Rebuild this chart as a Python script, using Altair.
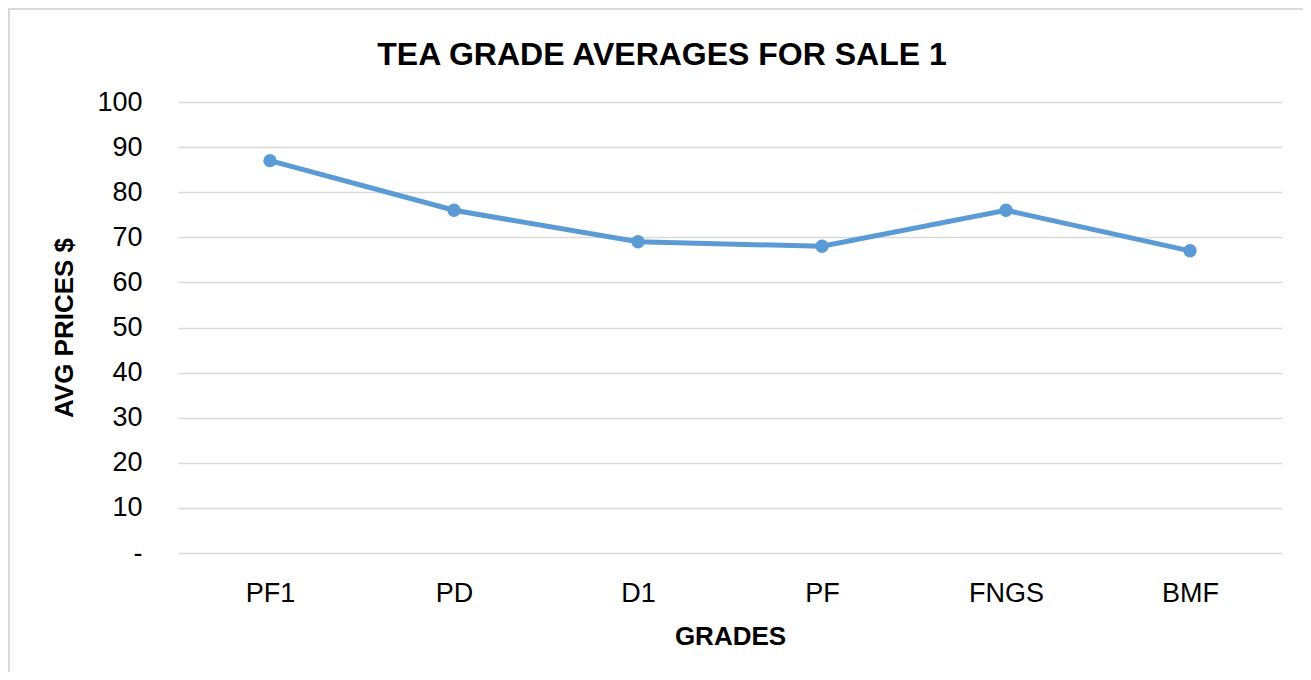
import altair as alt
import pandas as pd

grades = ["PF1", "PD", "D1", "PF", "FNGS", "BMF"]
avg_prices = [87, 76, 69, 68, 76, 67]
y_ticks = [0, 10, 20, 30, 40, 50, 60, 70, 80, 90, 100]

df = pd.DataFrame({"grade": grades, "price": avg_prices})

FONT = "Liberation Sans"
BLUE = "#5B9BD5"
W, H = 1104, 451

base = alt.Chart(df).encode(
    x=alt.X(
        "grade:N",
        sort=grades,
        scale=alt.Scale(type="point", padding=0.5),
        axis=alt.Axis(
            title="GRADES",
            titleFont=FONT,
            titleFontSize=26,
            titleFontWeight="bold",
            titleColor="#000000",
            titleBaseline="alphabetic",
            titleY=91,
            labelFont=FONT,
            labelFontSize=27,
            labelColor="#000000",
            labelAngle=0,
            labelPadding=27,
            domain=False,
            ticks=False,
            grid=False,
        ),
    ),
    y=alt.Y(
        "price:Q",
        scale=alt.Scale(domain=[0, 100], nice=False),
        axis=alt.Axis(
            values=y_ticks,
            title="AVG PRICES $",
            titleFont=FONT,
            titleFontSize=26,
            titleFontWeight="bold",
            titleColor="#000000",
            titleBaseline="alphabetic",
            titleX=-106,
            labelFont=FONT,
            labelFontSize=27,
            labelColor="#000000",
            labelPadding=36,
            labelExpr="datum.value == 0 ? '-' : datum.label",
            domain=False,
            ticks=False,
            grid=True,
            gridColor="#D9D9D9",
            gridWidth=1.5,
        ),
    ),
)

line = base.mark_line(color=BLUE, strokeWidth=5)
points = base.mark_point(filled=True, color=BLUE, size=180, opacity=1)

frame_data = alt.Data(values=[{}])
left_edge = alt.Chart(frame_data).mark_rule(color="#D9D9D9", strokeWidth=2).encode(
    x=alt.value(-169),
    y=alt.value(-94),
    y2=alt.value(H + 200),
)
top_edge = alt.Chart(frame_data).mark_rule(color="#D9D9D9", strokeWidth=2).encode(
    x=alt.value(-170),
    x2=alt.value(W + 60),
    y=alt.value(-93),
)

chart = alt.layer(left_edge, top_edge, line, points).properties(
    width=W,
    height=H,
    autosize=alt.AutoSizeParams(type="none"),
    padding={"left": 170, "top": 94, "right": 21, "bottom": 119},
    title=alt.TitleParams(
        "TEA GRADE AVERAGES FOR SALE 1",
        font=FONT,
        fontSize=32,
        fontWeight="bold",
        color="#000000",
        anchor="middle",
        dx=-68,
        baseline="alphabetic",
        offset=0,
        dy=90,
    ),
).configure(
    background="white",
    view=alt.ViewConfig(stroke=None),
)

chart.save("out.html", embed_options={"renderer": "svg", "actions": False})
